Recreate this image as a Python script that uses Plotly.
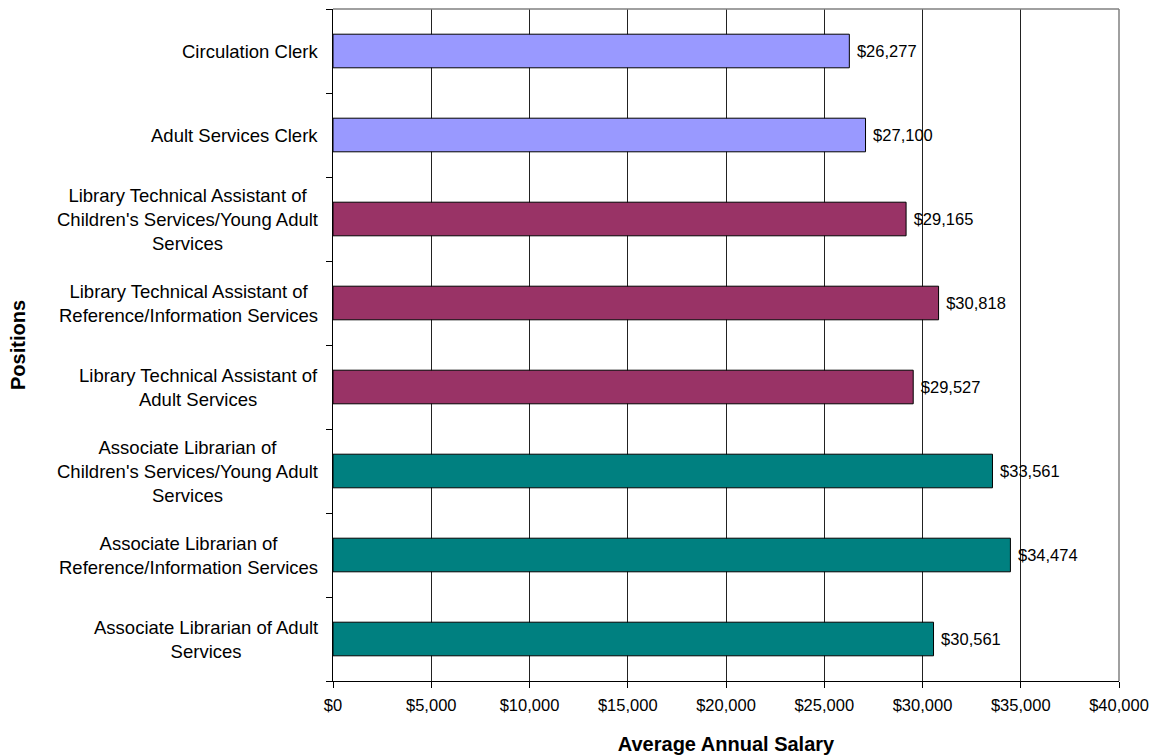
import plotly.graph_objects as go

# Data (bottom to top)
positions = [
    "Associate Librarian of Adult<br>Services",
    "Associate Librarian of<br>Reference/Information Services",
    "Associate Librarian of<br>Children's Services/Young Adult<br>Services",
    "Library Technical Assistant of<br>Adult Services",
    "Library Technical Assistant of<br>Reference/Information Services",
    "Library Technical Assistant of<br>Children's Services/Young Adult<br>Services",
    "Adult Services Clerk",
    "Circulation Clerk",
]
salaries = [30561, 34474, 33561, 29527, 30818, 29165, 27100, 26277]
groups = ["Librarian", "Librarian", "Librarian", "Technical", "Technical", "Technical", "Clerk", "Clerk"]
x_tick_values = [0, 5000, 10000, 15000, 20000, 25000, 30000, 35000, 40000]
x_tick_labels = ["$0", "$5,000", "$10,000", "$15,000", "$20,000", "$25,000", "$30,000", "$35,000", "$40,000"]

group_colors = {"Clerk": "#9999FF", "Technical": "#993366", "Librarian": "#008080"}
FONT = "Liberation Sans, Arial, sans-serif"

fig = go.Figure()
fig.add_trace(go.Bar(
    x=salaries,
    y=positions,
    orientation="h",
    width=0.4,
    marker=dict(color=[group_colors[g] for g in groups], line=dict(color="black", width=1)),
    text=[f"\u00a0${v:,}" for v in salaries],
    textposition="outside",
    textfont=dict(family=FONT, size=16.5, color="black"),
    cliponaxis=False,
    hoverinfo="x+y",
))

annotations = []
for p in positions:
    annotations.append(dict(
        x=0, xref="paper", y=p, yref="y",
        text=p, showarrow=False, xanchor="right", yanchor="middle",
        align="center", xshift=-13,
        font=dict(family=FONT, size=18.5, color="black"),
    ))

fig.update_layout(
    width=1154, height=755, autosize=False,
    margin=dict(l=333, r=35, t=9, b=74, autoexpand=False),
    paper_bgcolor="white", plot_bgcolor="white",
    showlegend=False,
    font=dict(family=FONT, color="black"),
    annotations=annotations,
    shapes=[
        dict(type="line", xref="paper", yref="paper", x0=0, x1=1, y0=1, y1=1,
             line=dict(color="#808080", width=1.5), layer="above"),
        dict(type="line", xref="paper", yref="paper", x0=1, x1=1, y0=0, y1=1,
             line=dict(color="#808080", width=1.5), layer="above"),
    ],
    xaxis=dict(
        range=[0, 40000], automargin=False,
        tickvals=x_tick_values, ticktext=x_tick_labels,
        tickfont=dict(family=FONT, size=16.5, color="black"),
        showgrid=True, gridcolor="#222222", gridwidth=1,
        showline=True, linecolor="black", linewidth=1,
        ticks="outside", ticklen=6, tickcolor="black",
        ticklabelstandoff=3,
        zeroline=False,
        title=dict(text="<b>Average Annual Salary</b>", font=dict(family=FONT, size=20, color="black"), standoff=26),
    ),
    yaxis=dict(
        categoryorder="array", categoryarray=positions, automargin=False,
        showticklabels=False,
        showline=True, linecolor="black", linewidth=1,
        ticks="outside", ticklen=6, tickcolor="black", tickson="boundaries",
        showgrid=False, zeroline=False,
        range=[-0.5, len(positions) - 0.5],
    ),
)

fig.add_annotation(
    x=0, xref="paper", y=0.5, yref="paper", xshift=-315,
    text="<b>Positions</b>", textangle=-90, showarrow=False,
    font=dict(family=FONT, size=20, color="black"),
    xanchor="center", yanchor="middle",
)

fig.write_html(
    "out.html",
    config={"displayModeBar": False, "responsive": False},
    post_script="document.documentElement.style.overflow='hidden';document.body.style.margin='0';document.body.style.overflow='hidden';",
)
